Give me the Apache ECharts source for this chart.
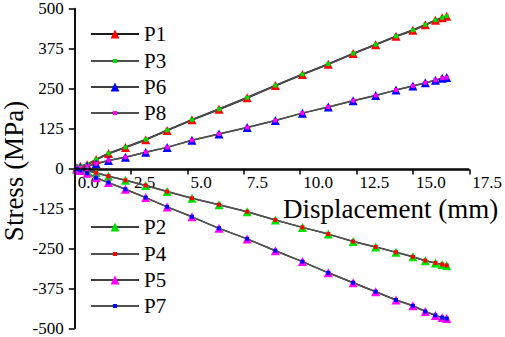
<!DOCTYPE html>
<html>
<head>
<meta charset="utf-8">
<script src="https://cdn.jsdelivr.net/npm/echarts@6/dist/echarts.min.js"></script>
<style>
html, body { margin: 0; padding: 0; background: #fff; }
#chart { width: 505px; height: 337px; }
</style>
</head>
<body>
<div id="chart"></div>
<script>
// 位移 (mm)
const displacement = [0.1, 0.25, 0.55, 0.95, 1.5, 2.25, 3.15, 4.1, 5.2, 6.4, 7.65, 8.9, 10.1, 11.25, 12.35, 13.35, 14.25, 15.0, 15.55, 16.0, 16.3, 16.5]
// 应力 (MPa)
const p1 = [2, 7, 12, 28, 47, 66, 90, 119, 152, 185, 221, 259, 294, 326, 359, 387, 413, 432, 449, 463, 471, 476]
const p3 = [2, 7, 12, 28, 47, 66, 90, 119, 152, 185, 221, 259, 294, 326, 359, 387, 413, 432, 449, 463, 471, 476]
const p6 = [0, 2, 7, 15, 25, 35, 51, 66, 88, 108, 128, 150, 173, 192, 212, 228, 245, 258, 268, 276, 282, 284]
const p8 = [0, 2, 7, 15, 25, 35, 51, 66, 88, 108, 128, 150, 173, 192, 212, 228, 245, 258, 268, 276, 282, 284]
const p2 = [-1, -3, -7, -13, -24, -37, -53, -72, -93, -113, -135, -161, -184, -205, -228, -245, -262, -276, -288, -295, -300, -303]
const p4 = [-1, -3, -7, -13, -24, -37, -53, -72, -93, -113, -135, -161, -184, -205, -228, -245, -262, -276, -288, -295, -300, -303]
const p5 = [-2, -6, -15, -29, -44, -65, -91, -120, -151, -187, -220, -257, -291, -326, -357, -385, -411, -429, -447, -459, -466, -469]
const p7 = [-2, -6, -15, -29, -44, -65, -91, -120, -151, -187, -220, -257, -291, -326, -357, -385, -411, -429, -447, -459, -466, -469]

const seriesNames = ['P1', 'P3', 'P6', 'P8', 'P2', 'P4', 'P5', 'P7']
const seriesValues = [p1, p3, p6, p8, p2, p4, p5, p7]

// 样式: 三角形 / 小方块
const styles = [
  { symbol: 'triangle', color: '#ff0000', line: '#1a1a1a', width: 2 },
  { symbol: 'rect', color: '#00e000', line: '#505050', width: 1.5 },
  { symbol: 'triangle', color: '#0000ff', line: '#404040', width: 1.5 },
  { symbol: 'rect', color: '#ff00ff', line: '#505050', width: 1.5 },
  { symbol: 'triangle', color: '#00e000', line: '#404040', width: 1.5 },
  { symbol: 'rect', color: '#ff0000', line: '#505050', width: 1.5 },
  { symbol: 'triangle', color: '#ff00ff', line: '#404040', width: 1.5 },
  { symbol: 'rect', color: '#0000ff', line: '#505050', width: 1.5 }
]
// 图例每行中心位置
const legendRows = [34, 61, 87, 113, 227, 254, 280, 306]

const font = 'Liberation Serif'
const gridTop = 8
const gridBottom = 7
const plotHeight = 337 - gridTop - gridBottom
const myChart = echarts.init(document.getElementById('chart'), null, { renderer: 'svg' })

const option = {
  animation: false,
  grid: {
    left: 74.7,
    right: 33,
    top: gridTop,
    bottom: gridBottom
  },
  xAxis: {
    type: 'value',
    min: 0,
    max: 17.5,
    interval: 2.5,
    // 刻度标签放到 y=0 处 (y 范围对称)
    offset: -plotHeight / 2,
    axisLine: { show: true, lineStyle: { color: '#000', width: 1.5 } },
    axisTick: { show: true, inside: false, length: 5, lineStyle: { color: '#000', width: 1.5 } },
    splitLine: { show: false },
    axisLabel: {
      show: true,
      color: '#000',
      fontSize: 17,
      fontFamily: font,
      margin: 6,
      align: 'left',
      padding: [0, 0, 0, 3],
      formatter: (v) => v.toFixed(1)
    }
  },
  yAxis: {
    type: 'value',
    min: -500,
    max: 500,
    interval: 125,
    axisLine: { show: true, lineStyle: { color: '#000', width: 1.5 } },
    axisTick: { show: true, inside: false, length: 6, lineStyle: { color: '#000', width: 1.5 } },
    splitLine: { show: false },
    axisLabel: { color: '#000', fontSize: 17, fontFamily: font, margin: 11 }
  },
  legend: seriesNames.map((name, i) => ({
    data: [name],
    orient: 'vertical',
    left: 90,
    top: legendRows[i] - 10.5,
    padding: 0,
    itemWidth: 48,
    itemHeight: styles[i].symbol === 'triangle' ? 11 : 5,
    selectedMode: false,
    textStyle: { color: '#000', fontSize: 21, fontFamily: font }
  })),
  graphic: [
    {
      type: 'text',
      x: 283,
      y: 209,
      style: { text: 'Displacement (mm)', font: '27px "Liberation Serif"', fill: '#000', align: 'left', verticalAlign: 'middle' }
    },
    {
      type: 'text',
      x: 14,
      y: 171,
      rotation: Math.PI / 2,
      style: { text: 'Stress (MPa)', font: '27px "Liberation Serif"', fill: '#000', align: 'center', verticalAlign: 'middle' }
    }
  ],
  series: seriesNames.map((name, i) => ({
    name: name,
    type: 'line',
    data: displacement.map((x, j) => [x, seriesValues[i][j]]),
    symbol: styles[i].symbol,
    symbolSize: styles[i].symbol === 'triangle' ? 9 : 4,
    showAllSymbol: true,
    itemStyle: { color: styles[i].color },
    lineStyle: { color: styles[i].line, width: styles[i].width },
    // 零线与纵轴线 (备用, 与坐标轴重合)
    markLine: i === 0 ? {
      silent: true,
      symbol: 'none',
      label: { show: false },
      lineStyle: { color: '#000', width: 1.5, type: 'solid' },
      data: [{ yAxis: 0 }, { xAxis: 0 }]
    } : undefined
  }))
}
myChart.setOption(option)
</script>
</body>
</html>
